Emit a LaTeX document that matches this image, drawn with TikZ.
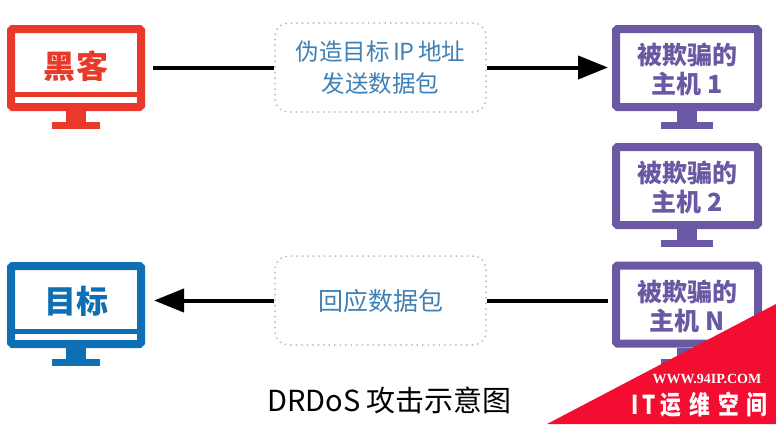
\documentclass[tikz,border=0pt]{standalone}
\usepackage{fontspec}
\setmainfont{Noto Sans CJK SC}
\newfontfamily\markfont{Liberation Serif}
\usetikzlibrary{positioning,arrows.meta}
\definecolor{hackred}{HTML}{E8392A}
\definecolor{hostpurple}{HTML}{6A58A3}
\definecolor{targetblue}{HTML}{0F6FB5}
\definecolor{boxdots}{HTML}{B0B6D6}
\definecolor{boxtext}{HTML}{3F80B6}
\definecolor{markred}{HTML}{F20D31}
\newcommand{\hostline}{\rule{0pt}{25pt}}
\newcommand{\monlift}[1]{\rule[-#1]{0pt}{1pt}}

\begin{document}
\begin{tikzpicture}[
	x=1pt,y=-1pt,
	monitor/.style={
		draw=#1,
		line width=8pt,
		rounded corners=1.5pt,
		minimum width=130pt,
		text=#1,
		align=center,
		inner sep=0pt
	},
	hostmon/.style={
		monitor=hostpurple,
		minimum width=142pt,
		minimum height=78pt,
		font=\fontsize{25}{29}\bfseries\selectfont
	},
	endmon/.style={
		monitor=#1,
		minimum height=78pt,
		font=\fontsize{32}{36}\bfseries\selectfont
	},
	dotbox/.style={
		draw=boxdots,
		line width=2pt,
		dash pattern=on 0pt off 5.5pt,
		line cap=round,
		rounded corners=13pt,
		minimum width=211pt,
		minimum height=89pt,
		align=center,
		text=boxtext,
		font=\fontsize{23.5}{32}\selectfont
	},
	flow/.style={
		line width=4pt,
		black
	},
	flowtip/.style={
		flow,
		-{Triangle[length=30pt,width=23pt]}
	}
	]
	
	\useasboundingbox (0,0) rectangle (776,424);
	
	\node[endmon=hackred] (hack) at (76,68) {\monlift{7pt}黑\hspace{1pt}客};
	\node[endmon=targetblue] (target) at (76,305) {\monlift{10pt}目标};
	
	\node[hostmon] (h1) at (687,68) {\hostline 被欺骗的\\主机 1};
	\node[hostmon] (h2) at (687,186) {\hostline 被欺骗的\\主机 2};
	\node[hostmon] (hn) at (687,304.5) {\hostline 被欺骗的\\主机 N};
	
	\foreach \m/\c/\w in {hack/hackred/24,target/targetblue/24,h1/hostpurple/26,h2/hostpurple/26,hn/hostpurple/26} {
		\fill[\c] ([xshift=-10pt]\m.south) rectangle ([xshift=10pt,yshift=-11pt]\m.south);
		\fill[\c] ([xshift=-\w pt,yshift=-11pt]\m.south) rectangle ([xshift=\w pt,yshift=-18pt]\m.south);
	}
	\foreach \m/\c in {hack/hackred,target/targetblue} {
		\draw[\c,line width=4.5pt] ([yshift=-26.5pt]\m.west) -- ([yshift=-26.5pt]\m.east);
	}
	
	\node[dotbox] (send) at (380.5,67.5) {伪造目标\hspace{3.5pt}IP\hspace{3.5pt}地址\\发送数据包};
	\node[dotbox,font=\fontsize{25}{32}\selectfont] (recv) at (380.5,300.5) {回应数据包};
	
	\draw[flow,shorten <=8pt] (hack.east |- send.west) -- (send.west);
	\draw[flowtip,shorten >=4pt] (send.east) -- (h1.west |- send.east);
	\draw[flow,shorten >=4pt] (recv.east) -- (hn.west |- recv.east);
	\draw[flowtip,shorten >=9pt] (recv.west) -- (target.east |- recv.west);
	
	\node[font=\fontsize{29}{36}\selectfont] (title) at (389.5,400) {DRDoS 攻击示意图};
	
	\fill[markred] (776,304) -- (776,424) -- (547,424) -- cycle;
	\node[text=white,font=\markfont\fontsize{14}{16}\bfseries\selectfont] (mark) at (707,379) {WWW.94IP.COM};
	\node[text=white,xscale=.8,transform shape,font=\fontsize{26}{30}\bfseries\selectfont] (site) at (699.5,405) {I\hspace{5pt}T\hspace{6pt}运\hspace{10pt}维\hspace{10pt}空\hspace{10pt}间};
	
\end{tikzpicture}
\end{document}
